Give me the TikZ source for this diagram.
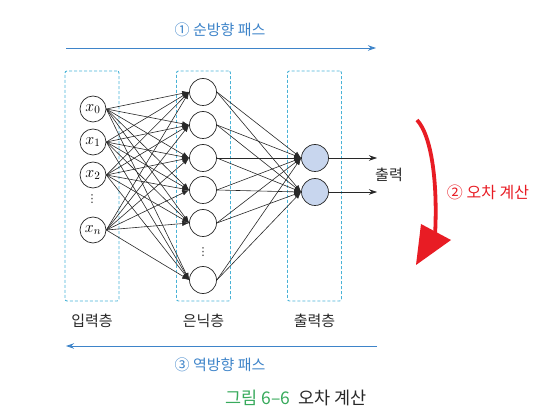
\RequirePackage{fix-cm}
\documentclass[tikz,border=0pt]{standalone}
\usepackage{fontspec}
\newfontfamily\kr{Noto Sans CJK KR}
\newfontfamily\symfont{DejaVu Sans}
\usetikzlibrary{arrows.meta}
\definecolor{passblue}{RGB}{62,132,201}
\definecolor{boxcyan}{RGB}{72,178,214}
\definecolor{errred}{RGB}{232,28,36}
\definecolor{capgreen}{RGB}{56,170,92}
\definecolor{outfill}{RGB}{200,214,238}
\definecolor{ink}{RGB}{40,40,40}
\begin{document}
\begin{tikzpicture}[x=1pt,y=-1pt,
  neuron/.style={circle,draw=ink,line width=0.7pt,inner sep=0pt,minimum size=27pt},
  outneuron/.style={neuron,fill=outfill},
  layerbox/.style={draw=boxcyan,line width=0.9pt,dash pattern=on 3pt off 2pt,
    rounded corners=2pt,minimum width=54pt,minimum height=230pt,inner sep=0pt},
  conn/.style={draw=ink,line width=0.6pt,-{Latex[length=7pt,width=5pt]}},
  outarrow/.style={draw=ink,line width=0.6pt,-{Stealth[length=8pt,width=5.5pt]}},
  passarrow/.style={draw=passblue,line width=0.9pt,-{Stealth[length=8pt,width=5.5pt]}},
  krlabel/.style={font=\kr\fontsize{15}{18}\selectfont,text=ink,inner sep=0pt},
  passlabel/.style={font=\kr\fontsize{15}{18}\selectfont,text=passblue,inner sep=0pt},
  mathlabel/.style={font=\fontsize{16}{18}\selectfont},
  dotlabel/.style={font=\symfont\fontsize{11}{11}\selectfont,text=ink,inner sep=0pt}
]
\useasboundingbox (0,0) rectangle (550,417);

% layer frames
\node[layerbox] (inbox)  at (92,186) {};
\node[layerbox] (hidbox) at (203.5,186) {};
\node[layerbox] (outbox) at (314.5,186) {};

% input neurons
\node[neuron,minimum size=26pt,mathlabel] (x0) at (93,109) {$x_0$};
\node[neuron,minimum size=26pt,mathlabel] (x1) at (93,142) {$x_1$};
\node[neuron,minimum size=26pt,mathlabel] (x2) at (93,175) {$x_2$};
\node[dotlabel] (xdots) at (92,199) {⋮};
\node[neuron,minimum size=26pt,mathlabel] (xn) at (93,230) {$x_n$};

% hidden neurons
\node[neuron] (h1) at (203,92) {};
\node[neuron] (h2) at (203,125) {};
\node[neuron] (h3) at (203,158) {};
\node[neuron] (h4) at (203,190) {};
\node[neuron] (h5) at (203,223) {};
\node[dotlabel] (hdots) at (203,252) {⋮};
\node[neuron] (h6) at (203,280) {};

% output neurons
\node[outneuron] (o1) at (315,158) {};
\node[outneuron] (o2) at (315,192) {};

% weights: input -> hidden
\foreach \i in {x0,x1,x2,xn}
  \foreach \j in {h1,h2,h3,h4,h5,h6}
    \draw[conn] (\i.east) -- (\j.west);

% weights: hidden -> output
\foreach \j in {h1,h2,h3,h4,h5,h6}
  \foreach \k in {o1,o2}
    \draw[conn] (\j.east) -- (\k.west);

% outputs
\coordinate (y1) at (377,158);
\coordinate (y2) at (377,192);
\draw[outarrow] (o1.east) -- (y1);
\draw[outarrow] (o2.east) -- (y2);
\node[krlabel] (outtext) at (389,175) {출력};

% layer names
\node[krlabel] (inname)  at (92,321) {입력층};
\node[krlabel] (hidname) at (203.5,321) {은닉층};
\node[krlabel] (outname) at (314.5,321) {출력층};

% forward pass
\coordinate (fwdA) at (66,48);
\coordinate (fwdB) at (376,48);
\draw[passarrow] (fwdA) -- (fwdB);
\node[passlabel] (fwdtext) at (220,30) {① 순방향 패스};

% backward pass
\coordinate (bwdA) at (377,346);
\coordinate (bwdB) at (66,346);
\draw[passarrow] (bwdA) -- (bwdB);
\node[passlabel] (bwdtext) at (220,365) {③ 역방향 패스};

% error computation arrow
\coordinate (errA) at (417,120);
\coordinate (errB) at (435,236);
\draw[errred,line width=3.8pt] (errA) .. controls (431,135) and (438,180) .. (errB);
\fill[errred] (421,224) -- (451,240) -- (416,265) -- cycle;
\node[font=\kr\fontsize{16}{19}\selectfont,text=errred,inner sep=0pt] (errtext) at (488,192) {② 오차 계산};

% caption
\node[font=\kr\fontsize{17.5}{20}\selectfont,text=ink,inner sep=0pt] (caption) at (296,398)
  {{\color{capgreen}그림 6–6}\hspace{8pt}오차 계산};
\end{tikzpicture}
\end{document}
